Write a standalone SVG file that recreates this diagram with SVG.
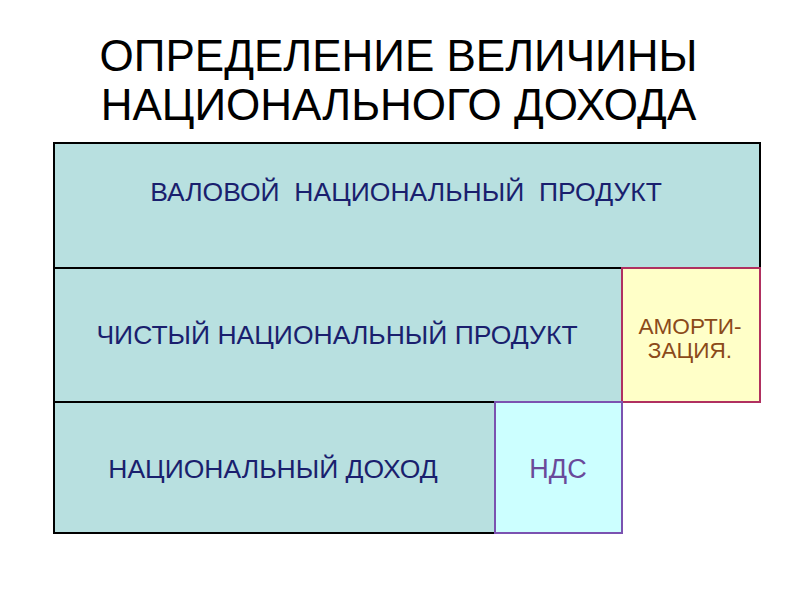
<svg xmlns="http://www.w3.org/2000/svg" width="800" height="600" viewBox="0 0 800 600">
<style>
.t{font-family:"Liberation Sans",Arial,sans-serif;text-anchor:middle}
.title{font-size:44px;fill:#000}
.row{font-size:26.5px;fill:#1a1f6e}
.blue{fill:#b8e0e0;stroke:#000;stroke-width:2}
</style>
<rect width="800" height="600" fill="#fff"/>
<g id="title">
<text class="t title" x="398.5" y="71">ОПРЕДЕЛЕНИЕ ВЕЛИЧИНЫ</text>
<text class="t title" x="398.5" y="120">НАЦИОНАЛЬНОГО ДОХОДА</text>
</g>
<g id="vnp">
<rect class="blue" x="54" y="143" width="706" height="125"/>
<text class="t row" x="406" y="201" xml:space="preserve">ВАЛОВОЙ  НАЦИОНАЛЬНЫЙ  ПРОДУКТ</text>
</g>
<g id="chnp">
<rect class="blue" x="54" y="268" width="568" height="134"/>
<text class="t row" x="337" y="344">ЧИСТЫЙ НАЦИОНАЛЬНЫЙ ПРОДУКТ</text>
</g>
<g id="amort">
<rect x="622" y="268" width="138" height="134" fill="#ffffc8" stroke="#b03060" stroke-width="2"/>
<text class="t" x="690" y="334" font-size="22.6" fill="#8b4a1a">АМОРТИ-</text>
<text class="t" x="690" y="358" font-size="22.6" fill="#8b4a1a">ЗАЦИЯ.</text>
</g>
<g id="nd">
<rect class="blue" x="54" y="402" width="441" height="131"/>
<text class="t row" x="273" y="478">НАЦИОНАЛЬНЫЙ ДОХОД</text>
</g>
<g id="nds">
<rect x="495" y="402" width="127" height="131" fill="#ccffff" stroke="#7b52b0" stroke-width="2"/>
<text class="t" x="558" y="478" font-size="27" fill="#6a4a9a">НДС</text>
</g>
<g id="connectors"></g>
</svg>
